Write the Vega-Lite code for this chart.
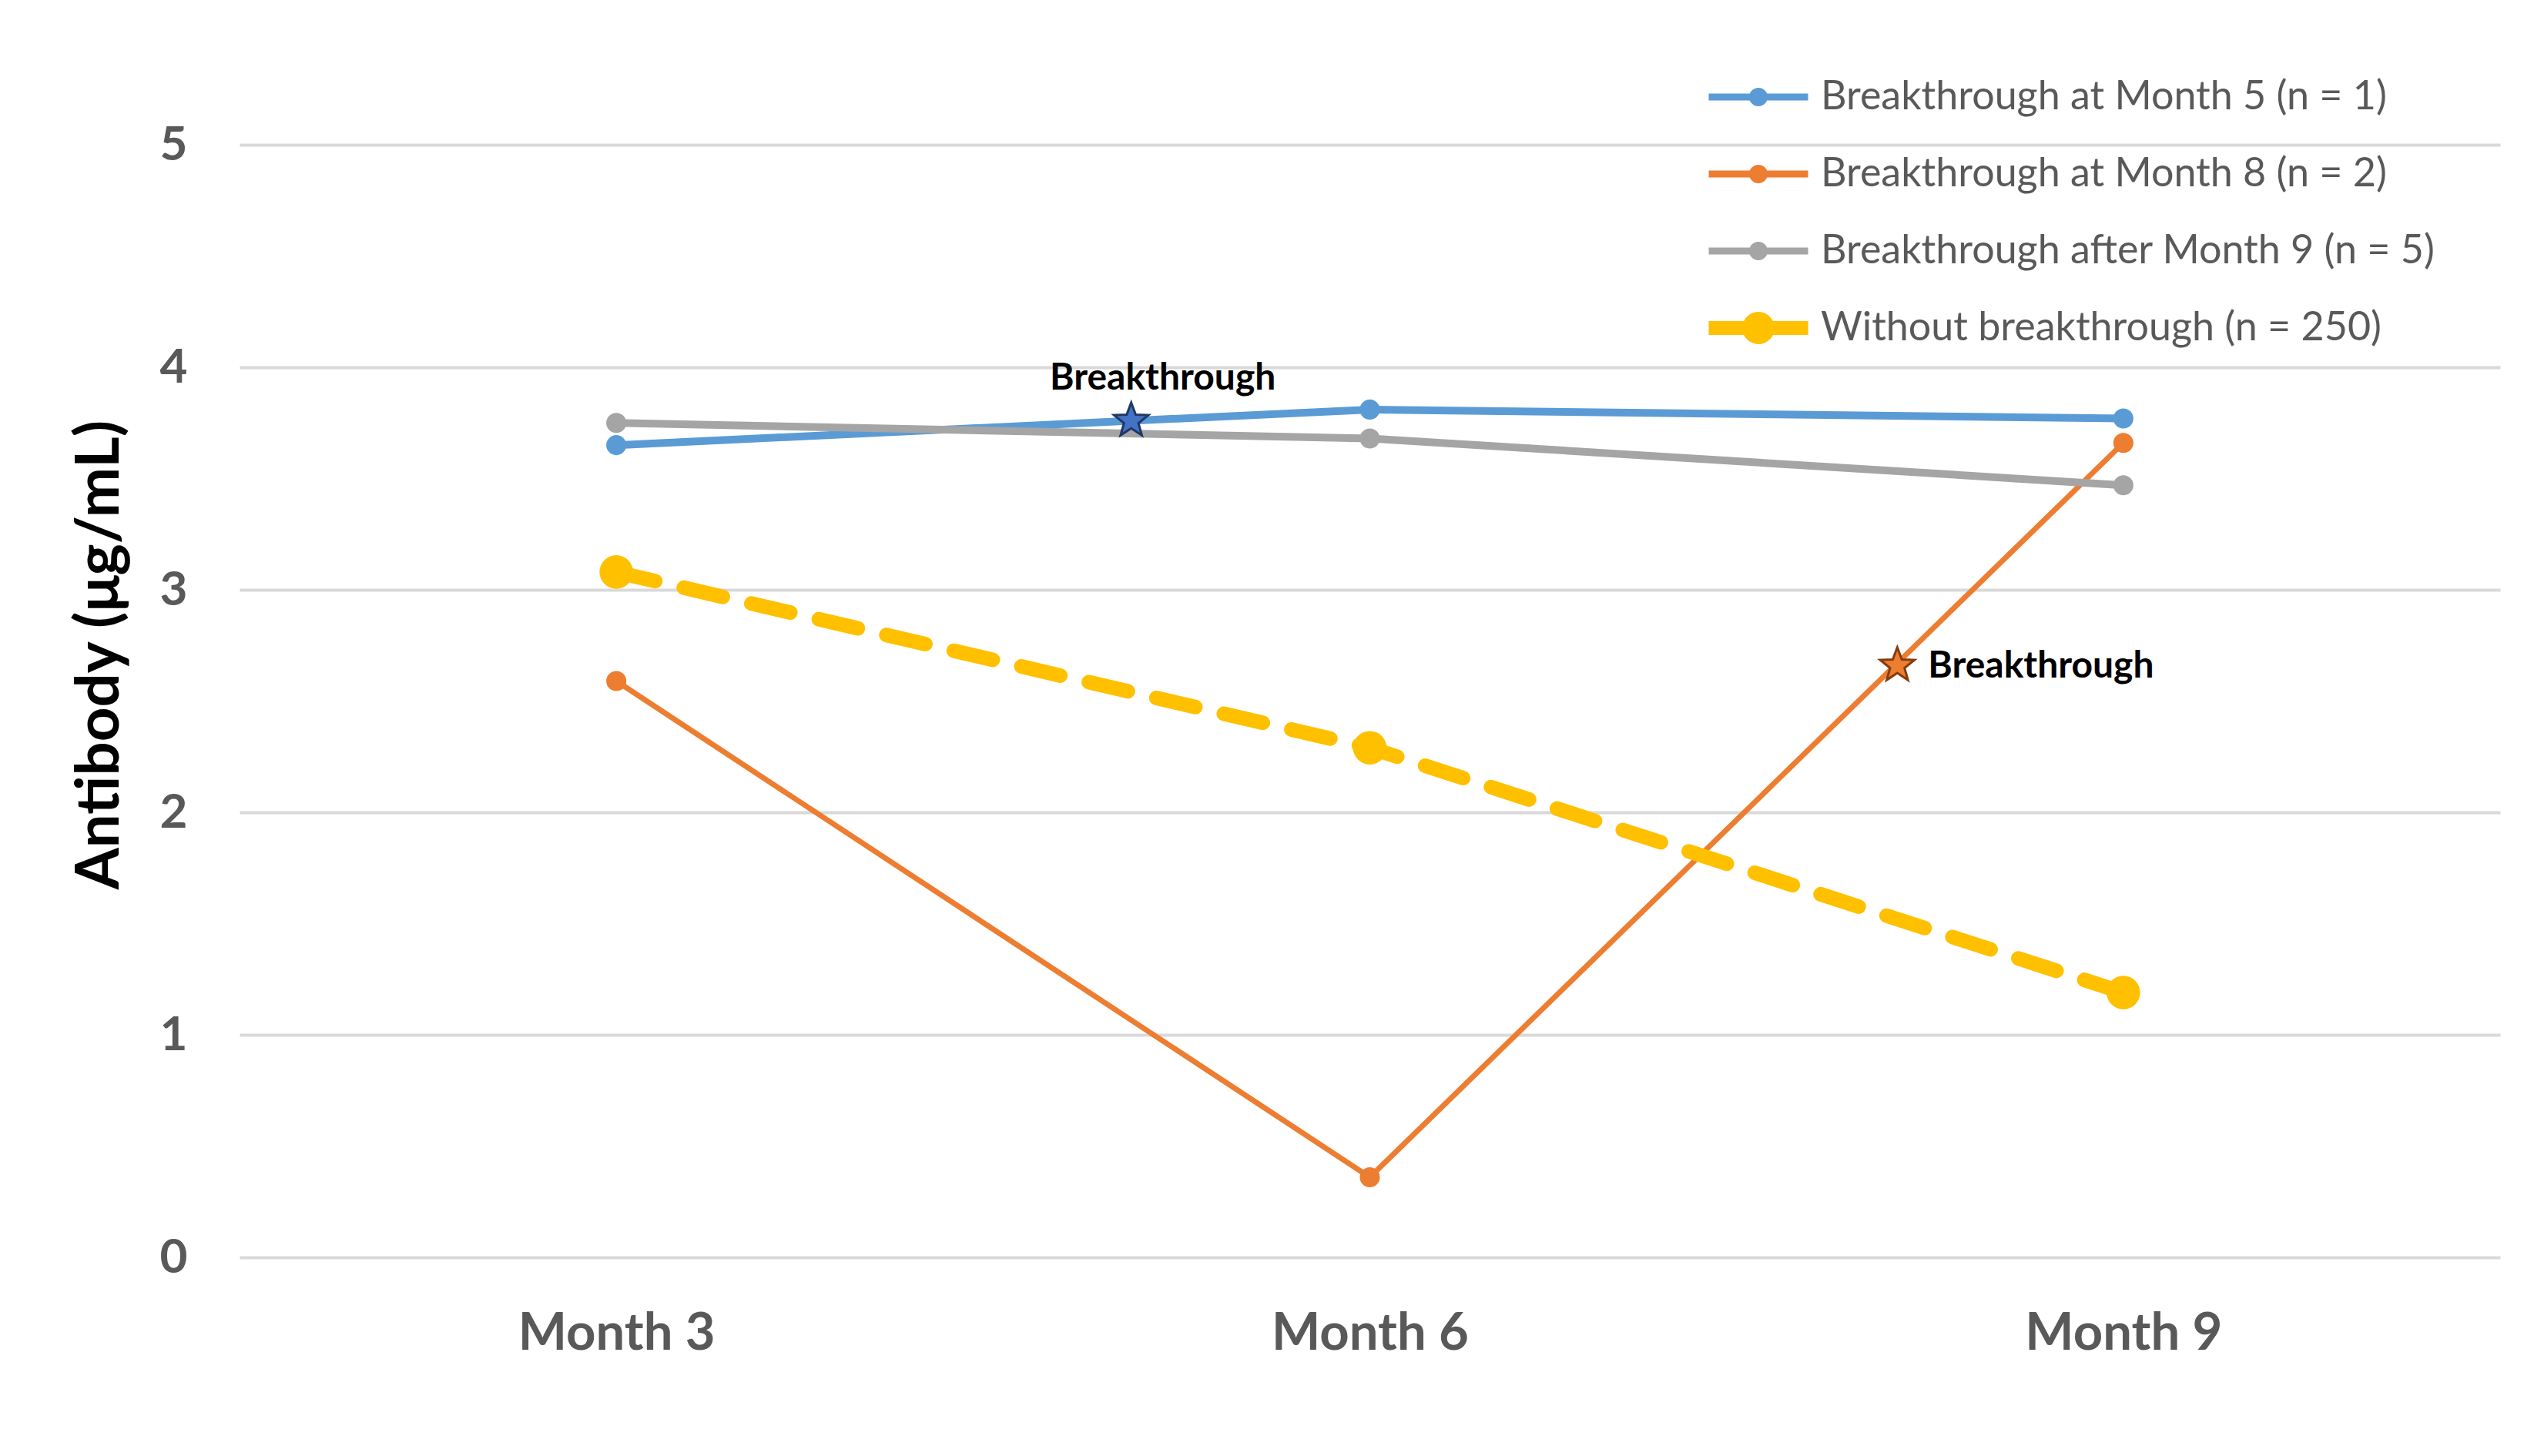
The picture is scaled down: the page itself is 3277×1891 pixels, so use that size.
{
  "$schema": "https://vega.github.io/schema/vega-lite/v6.json",
  "width": 2935,
  "height": 1445,
  "autosize": {"type": "none"},
  "padding": {"left": 311, "top": 188, "right": 31, "bottom": 258},
  "background": "white",
  "config": {"view": {"stroke": null}, "font": "Lato"},
  "datasets": {
    "series": [
      {"series": "Breakthrough at Month 5 (n = 1)", "month": 3, "value": 3.65},
      {"series": "Breakthrough at Month 5 (n = 1)", "month": 6, "value": 3.81},
      {"series": "Breakthrough at Month 5 (n = 1)", "month": 9, "value": 3.77},
      {"series": "Breakthrough at Month 8 (n = 2)", "month": 3, "value": 2.59},
      {"series": "Breakthrough at Month 8 (n = 2)", "month": 6, "value": 0.36},
      {"series": "Breakthrough at Month 8 (n = 2)", "month": 9, "value": 3.66},
      {"series": "Breakthrough after Month 9 (n = 5)", "month": 3, "value": 3.75},
      {"series": "Breakthrough after Month 9 (n = 5)", "month": 6, "value": 3.68},
      {"series": "Breakthrough after Month 9 (n = 5)", "month": 9, "value": 3.47},
      {"series": "Without breakthrough (n = 250)", "month": 3, "value": 3.08},
      {"series": "Without breakthrough (n = 250)", "month": 6, "value": 2.29},
      {"series": "Without breakthrough (n = 250)", "month": 9, "value": 1.19}
    ],
    "stars": [
      {"group": "Month 5", "month": 5.05, "value": 3.76, "label": "Breakthrough"},
      {"group": "Month 8", "month": 8.1, "value": 2.66, "label": "Breakthrough"}
    ]
  },
  "layer": [
    {
      "data": {"name": "series"},
      "transform": [{"filter": "datum.series === 'Breakthrough at Month 5 (n = 1)'"}],
      "mark": {"type": "line", "strokeWidth": 10, "strokeCap": "round", "strokeJoin": "round"},
      "encoding": {
        "x": {
          "field": "month", "type": "quantitative",
          "scale": {"domain": [1.5, 10.5], "nice": false, "zero": false},
          "axis": {
            "orient": "bottom",
            "values": [3, 6, 9], "labelExpr": "'Month ' + datum.value",
            "grid": false, "ticks": false, "domain": false, "labelLimit": 0,
            "labelFont": "Lato", "labelFontWeight": "bold", "labelFontSize": 67,
            "labelColor": "#595959", "labelPadding": 66, "title": null
          }
        },
        "y": {
          "field": "value", "type": "quantitative",
          "scale": {"domain": [0, 5], "nice": false},
          "axis": {
            "values": [0, 1, 2, 3, 4, 5], "format": "d", "grid": true, "gridColor": "#d9d9d9", "gridWidth": 4,
            "ticks": false, "domain": false,
            "labelFont": "Lato", "labelFontSize": 62, "labelFontWeight": "bold",
            "labelColor": "#595959", "labelPadding": 68,
            "title": "Antibody (μg/mL)", "titleFont": "Lato", "titleFontSize": 78,
            "titleFontWeight": "bold", "titleColor": "black",
            "titleX": -181, "titleY": 662, "titleAngle": -90,
            "titleBaseline": "middle", "titleAlign": "center"
          }
        },
        "color": {
          "field": "series", "type": "nominal",
          "scale": {
            "domain": ["Breakthrough at Month 5 (n = 1)", "Breakthrough at Month 8 (n = 2)", "Breakthrough after Month 9 (n = 5)", "Without breakthrough (n = 250)"],
            "range": ["#5B9BD5", "#ED7D31", "#A5A5A5", "#FFC000"]
          },
          "legend": {
            "orient": "none", "legendX": 1946, "legendY": -88, "title": null,
            "padding": 0, "labelFont": "Lato", "labelFontSize": 52,
            "labelColor": "#595959", "rowPadding": -62, "labelLimit": 0,
            "symbolSize": 900, "labelOffset": 55,
            "symbolType": "M0,-3.7M0,3.7M-4.3,0L4.3,0M-0.5,0A0.5,0.5,0,1,1,0.5,0A0.5,0.5,0,1,1,-0.5,0Z",
            "symbolStrokeWidth": 9,
            "encode": {
              "symbols": {
                "update": {
                  "shape": {"signal": "datum.value === 'Without breakthrough (n = 250)' ? 'M0,-2.5M0,2.5M-4.3,0L4.3,0M-0.8,0A0.8,0.8,0,1,1,0.8,0A0.8,0.8,0,1,1,-0.8,0Z' : 'M0,-3.7M0,3.7M-4.3,0L4.3,0M-0.5,0A0.5,0.5,0,1,1,0.5,0A0.5,0.5,0,1,1,-0.5,0Z'"},
                  "fill": {"scale": "color", "field": "value"},
                  "stroke": {"scale": "color", "field": "value"},
                  "strokeWidth": {"signal": "datum.value === 'Without breakthrough (n = 250)' ? 18 : 9"},
                  "size": {"value": 900},
                  "opacity": {"value": 1},
                  "fillOpacity": {"value": 1},
                  "strokeOpacity": {"value": 1}
                }
              }
            }
          }
        }
      }
    },
    {
      "data": {"name": "series"},
      "transform": [{"filter": "datum.series === 'Breakthrough at Month 8 (n = 2)'"}],
      "mark": {"type": "line", "strokeWidth": 7, "strokeCap": "round", "strokeJoin": "round"},
      "encoding": {
        "x": {"field": "month", "type": "quantitative"},
        "y": {"field": "value", "type": "quantitative"},
        "color": {"field": "series", "type": "nominal"}
      }
    },
    {
      "data": {"name": "series"},
      "transform": [{"filter": "datum.series === 'Breakthrough after Month 9 (n = 5)'"}],
      "mark": {"type": "line", "strokeWidth": 10, "strokeCap": "round", "strokeJoin": "round"},
      "encoding": {
        "x": {"field": "month", "type": "quantitative"},
        "y": {"field": "value", "type": "quantitative"},
        "color": {"field": "series", "type": "nominal"}
      }
    },
    {
      "data": {"name": "series"},
      "transform": [{"filter": "datum.series !== 'Without breakthrough (n = 250)'"}],
      "mark": {"type": "point", "filled": true, "opacity": 1, "shape": "circle", "size": 680},
      "encoding": {
        "x": {"field": "month", "type": "quantitative"},
        "y": {"field": "value", "type": "quantitative"},
        "color": {"field": "series", "type": "nominal"}
      }
    },
    {
      "data": {"name": "series"},
      "transform": [{"filter": "datum.series === 'Without breakthrough (n = 250)'"}],
      "mark": {"type": "line", "strokeWidth": 19, "strokeCap": "round", "strokeJoin": "round", "strokeDash": [52, 38]},
      "encoding": {
        "x": {"field": "month", "type": "quantitative"},
        "y": {"field": "value", "type": "quantitative"},
        "color": {"field": "series", "type": "nominal"}
      }
    },
    {
      "data": {"name": "series"},
      "transform": [{"filter": "datum.series === 'Without breakthrough (n = 250)'"}],
      "mark": {"type": "point", "filled": true, "opacity": 1, "shape": "circle", "size": 1900},
      "encoding": {
        "x": {"field": "month", "type": "quantitative"},
        "y": {"field": "value", "type": "quantitative"},
        "color": {"field": "series", "type": "nominal"}
      }
    },
    {
      "data": {"name": "stars"},
      "transform": [{"filter": "datum.group === 'Month 5'"}],
      "mark": {"type": "point", "shape": "M0,-1L0.25,-0.33L0.951,-0.309L0.4,0.14L0.588,0.809L0,0.42L-0.588,0.809L-0.4,0.14L-0.951,-0.309L-0.25,-0.33Z", "filled": true, "size": 2200, "strokeWidth": 3, "opacity": 1, "fill": "#4472C4", "stroke": "#1F3864"},
      "encoding": {
        "x": {"field": "month", "type": "quantitative"},
        "y": {"field": "value", "type": "quantitative"}
      }
    },
    {
      "data": {"name": "stars"},
      "transform": [{"filter": "datum.group === 'Month 8'"}],
      "mark": {"type": "point", "shape": "M0,-1L0.25,-0.33L0.951,-0.309L0.4,0.14L0.588,0.809L0,0.42L-0.588,0.809L-0.4,0.14L-0.951,-0.309L-0.25,-0.33Z", "filled": true, "size": 2200, "strokeWidth": 3, "opacity": 1, "fill": "#ED7D31", "stroke": "#843C0C"},
      "encoding": {
        "x": {"field": "month", "type": "quantitative"},
        "y": {"field": "value", "type": "quantitative"}
      }
    },
    {
      "data": {"name": "stars"},
      "transform": [{"filter": "datum.group === 'Month 5'"}],
      "mark": {"type": "text", "align": "center", "baseline": "alphabetic", "dx": 41, "dy": -40, "font": "Lato", "fontWeight": "bold", "fontSize": 48, "color": "black"},
      "encoding": {
        "x": {"field": "month", "type": "quantitative"},
        "y": {"field": "value", "type": "quantitative"},
        "text": {"field": "label"}
      }
    },
    {
      "data": {"name": "stars"},
      "transform": [{"filter": "datum.group === 'Month 8'"}],
      "mark": {"type": "text", "align": "left", "baseline": "middle", "dx": 40, "dy": 2, "font": "Lato", "fontWeight": "bold", "fontSize": 48, "color": "black"},
      "encoding": {
        "x": {"field": "month", "type": "quantitative"},
        "y": {"field": "value", "type": "quantitative"},
        "text": {"field": "label"}
      }
    }
  ]
}
